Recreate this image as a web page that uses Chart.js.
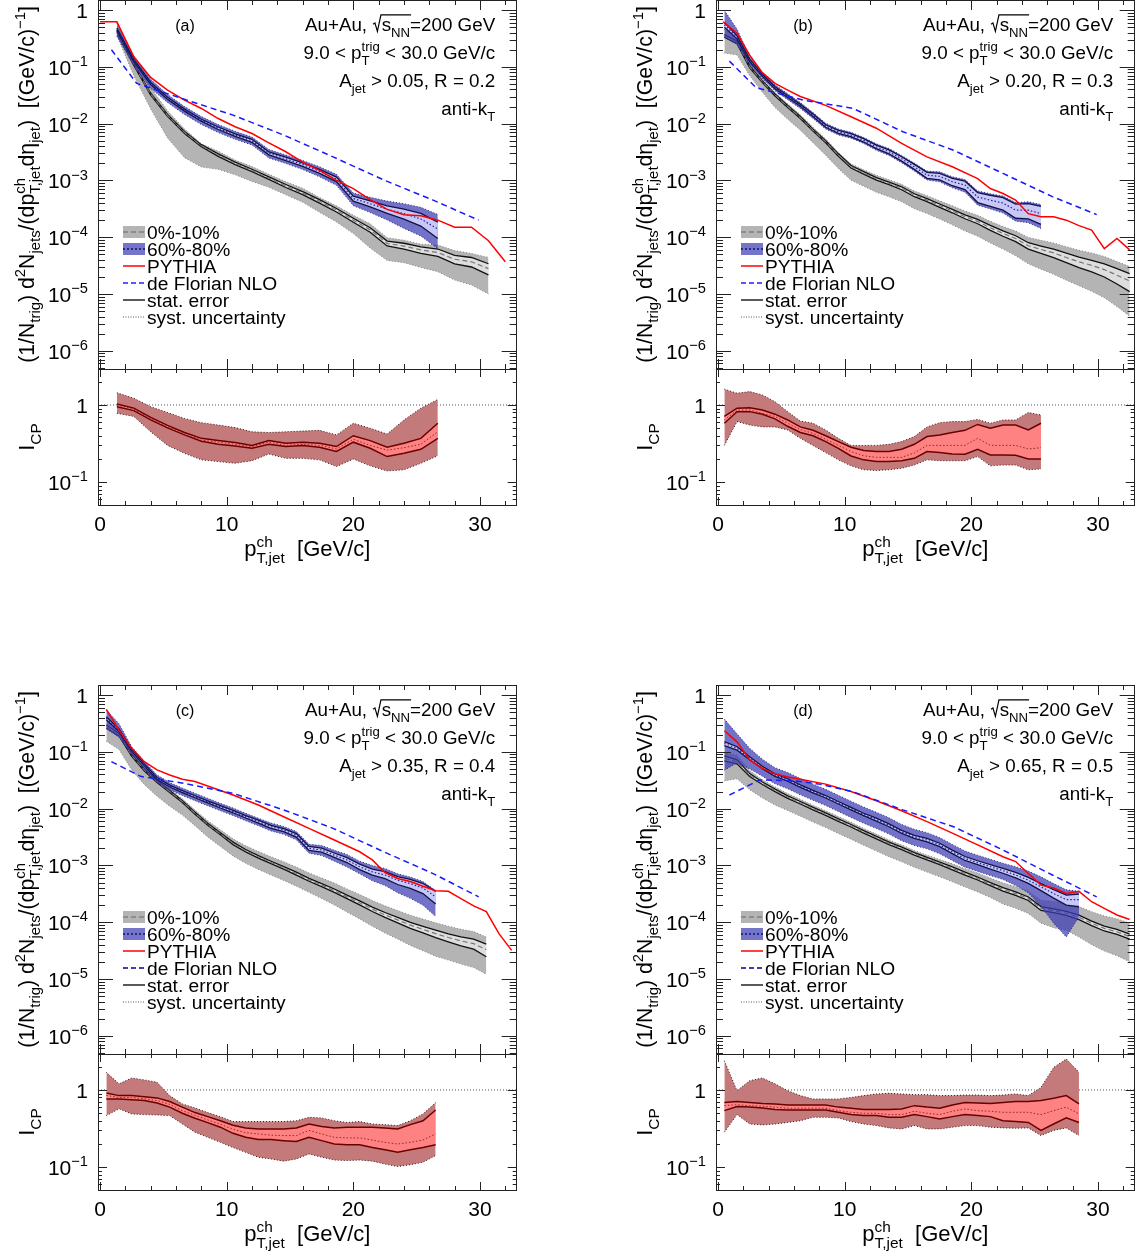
<!DOCTYPE html>
<html><head><meta charset="utf-8">
<script src="https://cdn.jsdelivr.net/npm/chart.js@4.4.1/dist/chart.umd.min.js"></script>
<style>
html,body{margin:0;padding:0;background:#fff;}
#wrap{position:relative;width:1139px;height:1258px;overflow:hidden;background:#fff;}
canvas{position:absolute;}
</style></head><body><div id="wrap"></div>
<script>
// ---------------- DATA ----------------
// Panel (a): A_jet > 0.05, R = 0.2
const xA = [1.33,2.67,4.0,5.33,6.67,8.0,9.33,10.67,12.0,13.33,14.67,16.0,17.33,18.67,20.0,21.33,22.67,24.0,25.33,26.67,28.0,29.33,30.67];
const centA = [0.42,0.11,0.033,0.014,7.0e-3,4.1e-3,2.8e-3,2.0e-3,1.5e-3,1.1e-3,8.0e-4,6.0e-4,4.3e-4,3.0e-4,2.0e-4,1.35e-4,7.8e-5,7.0e-5,6.0e-5,5.4e-5,4.1e-5,3.7e-5,2.8e-5];
const centA_stat = [0.04,0.04,0.04,0.04,0.04,0.04,0.05,0.05,0.05,0.05,0.06,0.06,0.07,0.07,0.08,0.09,0.10,0.12,0.13,0.15,0.17,0.19,0.22];
const centA_sysLo = [0.15,0.37,0.45,0.60,0.64,0.58,0.44,0.37,0.36,0.31,0.30,0.31,0.36,0.38,0.42,0.52,0.50,0.49,0.51,0.54,0.57,0.61,0.64];
const centA_sysHi = [0.05,0.22,0.30,0.20,0.15,0.08,0.17,0.14,0.17,0.17,0.19,0.21,0.17,0.19,0.22,0.28,0.26,0.27,0.26,0.35,0.42,0.40,0.58];
const periA = [0.46,0.13,0.051,0.028,0.0173,0.0115,8.3e-3,6.3e-3,5.0e-3,3.0e-3,2.4e-3,1.9e-3,1.45e-3,1.05e-3,4.8e-4,3.9e-4,3.1e-4,2.6e-4,2.1e-4,1.4e-4];
const periA_stat = [0.05,0.04,0.04,0.04,0.04,0.04,0.05,0.05,0.06,0.06,0.07,0.07,0.08,0.09,0.10,0.12,0.15,0.20,0.25,0.32];
const periA_sysLo = [0.25,0.20,0.18,0.16,0.16,0.16,0.16,0.16,0.16,0.17,0.17,0.18,0.20,0.22,0.25,0.30,0.35,0.45,0.50,0.55];
const periA_sysHi = [0.25,0.20,0.18,0.16,0.16,0.16,0.16,0.16,0.16,0.17,0.17,0.18,0.20,0.22,0.25,0.30,0.40,0.50,0.60,0.80];
const icpA = [1.0,0.88,0.67,0.52,0.43,0.35,0.33,0.31,0.29,0.33,0.30,0.31,0.30,0.27,0.36,0.30,0.26,0.28,0.31,0.45];
const icpA_stHi = [1.03,0.91,0.69,0.545,0.44,0.37,0.346,0.326,0.30,0.346,0.32,0.33,0.32,0.29,0.40,0.346,0.284,0.32,0.37,0.58];
const icpA_stLo = [0.95,0.845,0.64,0.505,0.41,0.34,0.31,0.295,0.275,0.31,0.29,0.30,0.284,0.25,0.33,0.275,0.215,0.237,0.267,0.37];
const icpA_syHi = [1.44,1.22,0.95,0.80,0.67,0.59,0.55,0.51,0.45,0.44,0.45,0.46,0.47,0.41,0.58,0.50,0.42,0.64,0.91,1.18];
const icpA_syLo = [0.78,0.71,0.45,0.30,0.237,0.195,0.185,0.176,0.19,0.232,0.204,0.204,0.195,0.16,0.20,0.163,0.14,0.145,0.176,0.22];
const pythiaA_x = [0,1.33,2.67,4.0,5.33,6.67,8.0,9.33,10.67,12.0,13.33,14.67,16.0,17.33,18.67,20.0,21.33,22.67,24.0,25.33,26.67,28.0,29.33,30.67,32.0];
const pythiaA = [0.62,0.62,0.15,0.065,0.039,0.026,0.0185,0.0123,8.8e-3,6.7e-3,4.6e-3,3.2e-3,2.1e-3,1.5e-3,1.0e-3,7.2e-4,4.6e-4,3.1e-4,2.5e-4,2.4e-4,2.0e-4,1.5e-4,1.5e-4,8.7e-5,3.7e-5];
const nloA_x = [0.9,2.9,6.4,10.5,14.5,18.4,22.4,26.3,29.9];
const nloA = [0.20,0.051,0.028,0.0141,6.3e-3,2.6e-3,1.02e-3,4.5e-4,2.0e-4];

// Panel (b): A_jet > 0.20, R = 0.3
const xB = [0.5,1.5,2.5,3.5,4.5,5.5,6.5,7.5,8.5,9.5,10.5,11.5,12.5,13.5,14.5,15.5,16.5,17.5,18.5,19.5,20.5,21.5,22.5,23.5,24.5,25.5,26.5,27.5,28.5,29.5,30.5,31.5,32.5];
const centB = [0.35,0.27,0.10,0.055,0.032,0.020,0.0128,7.7e-3,4.8e-3,2.8e-3,1.74e-3,1.36e-3,1.07e-3,8.9e-4,7.3e-4,5.5e-4,4.5e-4,3.6e-4,2.9e-4,2.3e-4,1.9e-4,1.47e-4,1.17e-4,9.5e-5,7.1e-5,6.1e-5,5.3e-5,4.4e-5,3.7e-5,3.2e-5,2.7e-5,2.15e-5,1.7e-5];
const centB_stat = [0.05,0.05,0.04,0.04,0.04,0.04,0.04,0.04,0.04,0.05,0.05,0.05,0.05,0.05,0.06,0.06,0.06,0.07,0.07,0.08,0.09,0.10,0.11,0.12,0.13,0.15,0.17,0.19,0.21,0.23,0.26,0.30,0.35];
const centB_sysLo = [0.50,0.40,0.30,0.35,0.40,0.40,0.40,0.40,0.42,0.42,0.42,0.42,0.42,0.42,0.42,0.42,0.42,0.42,0.43,0.44,0.45,0.46,0.47,0.50,0.52,0.55,0.58,0.60,0.62,0.65,0.68,0.72,0.76];
const centB_sysHi = [0.30,0.30,0.15,0.10,0.10,0.12,0.12,0.12,0.12,0.12,0.12,0.14,0.15,0.16,0.17,0.18,0.20,0.22,0.24,0.26,0.28,0.30,0.32,0.35,0.40,0.45,0.50,0.55,0.60,0.65,0.70,0.75,0.80];
const periB = [0.55,0.33,0.13,0.071,0.043,0.030,0.021,0.014,9.1e-3,7.2e-3,6.3e-3,5.1e-3,3.9e-3,3.2e-3,2.4e-3,1.74e-3,1.24e-3,1.18e-3,9.5e-4,8.3e-4,5.1e-4,4.5e-4,4.0e-4,3.0e-4,3.0e-4,2.6e-4];
const periB_stat = [0.10,0.06,0.05,0.04,0.04,0.04,0.04,0.05,0.05,0.06,0.06,0.07,0.07,0.08,0.09,0.10,0.12,0.13,0.15,0.17,0.20,0.22,0.25,0.28,0.30,0.35];
const periB_sysLo = [0.40,0.25,0.15,0.12,0.12,0.12,0.12,0.12,0.12,0.12,0.12,0.12,0.13,0.14,0.15,0.16,0.18,0.20,0.22,0.25,0.28,0.30,0.33,0.36,0.40,0.45];
const periB_sysHi = [0.80,0.40,0.15,0.12,0.12,0.12,0.12,0.12,0.12,0.12,0.12,0.12,0.13,0.14,0.15,0.16,0.18,0.20,0.22,0.25,0.28,0.30,0.33,0.36,0.40,0.45];
const icpB = [0.64,0.86,0.86,0.78,0.71,0.58,0.48,0.43,0.36,0.30,0.25,0.22,0.21,0.21,0.21,0.24,0.30,0.30,0.30,0.30,0.37,0.30,0.30,0.30,0.27,0.28];
const icpB_stHi = [0.71,0.91,0.92,0.86,0.76,0.64,0.52,0.47,0.40,0.336,0.284,0.257,0.25,0.25,0.267,0.31,0.39,0.41,0.44,0.47,0.56,0.50,0.55,0.55,0.475,0.58];
const icpB_stLo = [0.58,0.82,0.82,0.76,0.66,0.53,0.44,0.40,0.336,0.275,0.219,0.195,0.185,0.185,0.19,0.204,0.25,0.242,0.232,0.23,0.267,0.225,0.225,0.224,0.20,0.20];
const icpB_syHi = [1.6,1.42,1.49,1.35,1.10,0.82,0.62,0.58,0.475,0.37,0.30,0.30,0.30,0.31,0.336,0.39,0.52,0.59,0.61,0.61,0.65,0.58,0.64,0.64,0.80,0.74];
const icpB_syLo = [0.30,0.61,0.55,0.52,0.52,0.475,0.37,0.30,0.242,0.195,0.163,0.145,0.142,0.145,0.152,0.167,0.195,0.19,0.19,0.19,0.215,0.163,0.167,0.167,0.145,0.149];
const pythiaB_x = [0.4,1.5,2.5,3.5,4.5,5.5,6.5,8.5,10.5,12.5,14.5,16.5,18.5,20.5,21.5,22.5,23.5,24.5,25.5,26.5,27.5,28.5,29.5,30.5,31.5,32.5];
const pythiaB = [0.62,0.39,0.16,0.079,0.051,0.039,0.030,0.021,0.0132,8.3e-3,4.5e-3,2.6e-3,1.74e-3,1.08e-3,7.2e-4,5.9e-4,4.5e-4,2.6e-4,2.3e-4,2.3e-4,2.0e-4,1.6e-4,1.34e-4,6.3e-5,9.5e-5,6.0e-5];
const nloB_x = [0.9,3.0,6.7,10.65,14.6,18.6,22.5,26.4,29.9];
const nloB = [0.126,0.043,0.026,0.0186,7.2e-3,3.4e-3,1.33e-3,5.2e-4,2.5e-4];

// Panel (c): A_jet > 0.35, R = 0.4
const xC = [0.5,1.5,2.5,3.5,4.5,5.5,6.5,7.5,8.5,9.5,10.5,11.5,12.5,13.5,14.5,15.5,16.5,17.5,18.5,19.5,20.5,21.5,22.5,23.5,24.5,25.5,26.5,27.5,28.5,29.5,30.5];
const centC = [0.28,0.20,0.087,0.048,0.030,0.020,0.0133,8.3e-3,5.3e-3,3.6e-3,2.45e-3,1.82e-3,1.42e-3,1.13e-3,9.1e-4,7.2e-4,5.6e-4,4.5e-4,3.6e-4,2.8e-4,2.2e-4,1.7e-4,1.35e-4,1.1e-4,8.9e-5,7.5e-5,6.3e-5,5.4e-5,4.7e-5,4.2e-5,3.3e-5];
const centC_stat = [0.06,0.05,0.04,0.04,0.04,0.04,0.04,0.04,0.04,0.04,0.05,0.05,0.05,0.05,0.05,0.06,0.06,0.06,0.07,0.07,0.08,0.09,0.10,0.11,0.12,0.13,0.15,0.16,0.18,0.20,0.25];
const centC_sysLo = [0.45,0.45,0.45,0.45,0.45,0.45,0.42,0.40,0.40,0.40,0.40,0.40,0.40,0.40,0.40,0.40,0.40,0.42,0.44,0.46,0.48,0.50,0.52,0.54,0.56,0.58,0.60,0.60,0.61,0.62,0.63];
const centC_sysHi = [0.30,0.20,0.12,0.10,0.10,0.10,0.12,0.14,0.16,0.18,0.20,0.22,0.24,0.26,0.28,0.30,0.32,0.34,0.36,0.38,0.40,0.42,0.44,0.46,0.50,0.52,0.55,0.58,0.60,0.63,0.67];
const periC = [0.39,0.24,0.107,0.059,0.034,0.025,0.020,0.0162,0.0132,0.0108,8.9e-3,7.2e-3,5.9e-3,4.8e-3,4.2e-3,3.4e-3,2.0e-3,1.87e-3,1.52e-3,1.25e-3,9.5e-4,7.7e-4,6.8e-4,5.5e-4,4.8e-4,4.0e-4,2.8e-4];
const periC_stat = [0.06,0.05,0.04,0.04,0.04,0.04,0.04,0.04,0.04,0.05,0.05,0.05,0.06,0.06,0.06,0.07,0.08,0.08,0.09,0.10,0.11,0.12,0.14,0.16,0.18,0.20,0.25];
const periC_sysLo = [0.35,0.25,0.15,0.15,0.15,0.15,0.15,0.15,0.15,0.15,0.15,0.15,0.15,0.16,0.16,0.17,0.18,0.20,0.22,0.25,0.25,0.30,0.35,0.40,0.45,0.50,0.55];
const periC_sysHi = [0.40,0.30,0.15,0.15,0.15,0.15,0.15,0.15,0.15,0.15,0.15,0.15,0.15,0.16,0.16,0.17,0.18,0.20,0.22,0.25,0.25,0.30,0.30,0.30,0.30,0.30,0.30];
const icpC = [0.85,0.80,0.80,0.77,0.73,0.65,0.54,0.47,0.41,0.36,0.31,0.28,0.27,0.26,0.257,0.257,0.30,0.27,0.244,0.24,0.24,0.225,0.21,0.20,0.21,0.225,0.27];
const icpC_stHi = [0.915,0.845,0.845,0.82,0.79,0.71,0.60,0.51,0.452,0.40,0.35,0.323,0.313,0.313,0.313,0.323,0.363,0.336,0.323,0.33,0.33,0.33,0.323,0.313,0.356,0.40,0.55];
const icpC_stLo = [0.765,0.765,0.75,0.73,0.68,0.60,0.50,0.43,0.378,0.33,0.275,0.244,0.228,0.228,0.221,0.215,0.244,0.221,0.20,0.196,0.196,0.18,0.168,0.156,0.168,0.18,0.196];
const icpC_syHi = [1.69,1.20,1.43,1.35,1.26,0.845,0.66,0.585,0.51,0.452,0.39,0.39,0.39,0.39,0.39,0.40,0.443,0.435,0.40,0.38,0.39,0.363,0.356,0.346,0.40,0.49,0.686];
const icpC_syLo = [0.466,0.57,0.49,0.48,0.475,0.466,0.363,0.284,0.244,0.21,0.18,0.156,0.135,0.128,0.12,0.128,0.149,0.135,0.124,0.122,0.124,0.12,0.11,0.102,0.108,0.116,0.142];
const pythiaC_x = [0.5,1.5,2.5,3.5,4.5,5.5,6.5,7.5,8.5,10.5,12.5,14.5,16.5,18.5,20.5,21.5,22.5,23.5,24.5,25.5,26.5,27.5,28.5,29.5,30.5,31.5,32.5];
const pythiaC = [0.56,0.24,0.115,0.067,0.048,0.039,0.033,0.030,0.025,0.0174,0.0116,7.2e-3,4.5e-3,2.8e-3,1.74e-3,1.25e-3,7.5e-4,5.9e-4,5.2e-4,4.3e-4,3.6e-4,3.5e-4,2.6e-4,1.94e-4,1.54e-4,6.3e-5,3.2e-5];
const nloC_x = [0.9,3.2,6.6,10.5,14.5,18.4,22.4,26.3,29.9];
const nloC = [0.067,0.037,0.028,0.0186,9.5e-3,4.5e-3,1.74e-3,7.2e-4,2.8e-4];

// Panel (d): A_jet > 0.65, R = 0.5
const xD = [0.5,1.5,2.5,3.5,4.5,5.5,6.5,7.5,8.5,9.5,10.5,11.5,12.5,13.5,14.5,15.5,16.5,17.5,18.5,19.5,20.5,21.5,22.5,23.5,24.5,25.5,26.5,27.5,28.5,29.5,30.5,31.5,32.5];
const centD = [0.077,0.067,0.039,0.028,0.021,0.016,0.0127,0.010,8.0e-3,6.3e-3,5.0e-3,3.9e-3,3.1e-3,2.45e-3,2.0e-3,1.6e-3,1.32e-3,1.09e-3,8.9e-4,7.2e-4,5.9e-4,4.7e-4,3.8e-4,3.2e-4,2.6e-4,1.75e-4,1.6e-4,1.44e-4,1.22e-4,9.6e-5,7.8e-5,6.8e-5,5.6e-5];
const centD_stat = [0.10,0.08,0.06,0.05,0.05,0.05,0.05,0.05,0.05,0.05,0.05,0.05,0.05,0.05,0.05,0.05,0.05,0.05,0.06,0.06,0.06,0.06,0.07,0.07,0.07,0.08,0.08,0.08,0.09,0.09,0.10,0.10,0.10];
const centD_sysLo = [0.60,0.50,0.45,0.45,0.45,0.42,0.42,0.42,0.42,0.42,0.42,0.42,0.42,0.42,0.42,0.42,0.42,0.42,0.42,0.42,0.42,0.42,0.45,0.45,0.45,0.45,0.50,0.50,0.55,0.58,0.60,0.62,0.64];
const centD_sysHi = [0.25,0.30,0.20,0.15,0.15,0.15,0.15,0.15,0.15,0.15,0.15,0.15,0.15,0.15,0.15,0.15,0.15,0.17,0.20,0.22,0.25,0.28,0.30,0.32,0.35,0.40,0.45,0.50,0.55,0.60,0.65,0.70,0.72];
const periD = [0.14,0.115,0.077,0.053,0.039,0.032,0.025,0.020,0.0162,0.0127,0.010,7.9e-3,6.4e-3,5.1e-3,3.9e-3,3.2e-3,2.8e-3,2.3e-3,1.74e-3,1.33e-3,1.12e-3,9.5e-4,8.1e-4,6.8e-4,5.5e-4,4.2e-4,3.2e-4,2.5e-4,2.5e-4];
const periD_stat = [0.08,0.07,0.06,0.05,0.05,0.05,0.05,0.05,0.05,0.05,0.05,0.05,0.06,0.06,0.06,0.06,0.07,0.07,0.07,0.08,0.08,0.09,0.10,0.11,0.12,0.14,0.17,0.20,0.25];
const periD_sysLo = [0.66,0.45,0.35,0.30,0.30,0.30,0.30,0.30,0.30,0.30,0.30,0.30,0.30,0.30,0.30,0.30,0.30,0.30,0.30,0.30,0.30,0.30,0.30,0.35,0.40,0.55,0.70,0.78,0.50];
const periD_sysHi = [1.70,0.80,0.50,0.40,0.35,0.35,0.35,0.35,0.35,0.35,0.35,0.35,0.35,0.35,0.35,0.35,0.35,0.35,0.35,0.35,0.35,0.35,0.35,0.40,0.45,0.50,0.50,0.50,0.40];
const icpD = [0.627,0.646,0.627,0.615,0.60,0.58,0.58,0.58,0.58,0.54,0.514,0.50,0.50,0.48,0.48,0.53,0.50,0.48,0.53,0.568,0.54,0.53,0.514,0.514,0.514,0.48,0.54,0.60,0.49];
const icpD_stHi = [0.69,0.71,0.69,0.67,0.66,0.64,0.64,0.64,0.64,0.60,0.58,0.557,0.557,0.557,0.568,0.627,0.60,0.58,0.64,0.69,0.68,0.67,0.69,0.71,0.71,0.73,0.78,0.845,0.66];
const icpD_stLo = [0.54,0.61,0.60,0.585,0.557,0.55,0.55,0.55,0.55,0.514,0.48,0.466,0.466,0.443,0.443,0.48,0.452,0.42,0.452,0.48,0.466,0.452,0.40,0.39,0.38,0.30,0.363,0.435,0.38];
const icpD_syHi = [2.39,0.98,1.32,1.43,1.20,0.98,0.845,0.765,0.765,0.765,0.80,0.845,0.888,0.905,0.888,0.87,0.87,0.845,0.845,0.86,0.86,0.845,0.86,0.888,0.845,1.08,1.96,2.52,1.69];
const icpD_syLo = [0.284,0.48,0.363,0.353,0.363,0.38,0.40,0.443,0.443,0.435,0.39,0.363,0.346,0.323,0.313,0.346,0.313,0.313,0.33,0.346,0.346,0.33,0.323,0.32,0.323,0.257,0.30,0.323,0.257];
const pythiaD_x = [0.5,1.5,2.5,3.5,4.5,5.5,6.5,8.5,10.5,12.5,14.5,16.5,18.5,20.5,22.5,23.5,24.5,25.5,26.5,27.5,28.5,29.5,30.5,31.5,32.5];
const pythiaD = [0.235,0.15,0.072,0.051,0.041,0.036,0.033,0.027,0.020,0.0138,9.2e-3,5.9e-3,3.7e-3,2.3e-3,1.42e-3,1.17e-3,7.2e-4,4.5e-4,4.0e-4,3.2e-4,3.5e-4,2.3e-4,1.75e-4,1.34e-4,1.12e-4];
const nloD_x = [0.9,3.3,6.0,8.0,10.6,14.6,18.6,22.5,26.4,29.9];
const nloD = [0.0174,0.032,0.031,0.027,0.020,9.5e-3,4.8e-3,1.87e-3,6.8e-4,2.8e-4];

const legendLabels = ['0%-10%','60%-80%','PYTHIA','de Florian NLO','stat. error','syst. uncertainty'];
const UNITY = 1;

// ---------------- STYLE / LAYOUT ----------------
const FONT = '"Liberation Sans", Arial, Helvetica, sans-serif';
const X_MIN = -0.16, X_MAX = 32.9;
const Y_MIN = 4.8e-7, Y_MAX = 1.5;
const R_MIN = 0.0508, R_MAX = 2.92;
const AREA_L = 98, AREA_W = 418.7, UP_H = 369, LO_H = 136, CW = 520;
const C_GSYS = '#b4b4b4', C_GSTAT = '#dedede', C_BSYS = 'rgba(60,60,180,0.72)', C_BSTAT = '#c8c8f6';
const C_RSYS = '#c47a7a', C_RSTAT = '#ff8282';
const Y_TITLE = '(1/N_{trig}) d^{2}N_{jets}/(dp^{ch}_{T,jet}d\u03B7_{jet})  [(GeV/c)^{\u22121}]';
const Y_TITLE_LEN = 357, ANN = 18.8, LEG = 19.2;

const panels = [
  {tag:'(a)', ox:0,   oy:0,   ajet:'0.05', R:'0.2', x:xA, cen:centA, cSt:centA_stat, cLo:centA_sysLo, cHi:centA_sysHi,
   per:periA, pSt:periA_stat, pLo:periA_sysLo, pHi:periA_sysHi, icp:icpA, iStH:icpA_stHi, iStL:icpA_stLo, iSyH:icpA_syHi, iSyL:icpA_syLo,
   pyX:pythiaA_x, py:pythiaA, nX:nloA_x, n:nloA},
  {tag:'(b)', ox:618, oy:0,   ajet:'0.20', R:'0.3', x:xB, cen:centB, cSt:centB_stat, cLo:centB_sysLo, cHi:centB_sysHi,
   per:periB, pSt:periB_stat, pLo:periB_sysLo, pHi:periB_sysHi, icp:icpB, iStH:icpB_stHi, iStL:icpB_stLo, iSyH:icpB_syHi, iSyL:icpB_syLo,
   pyX:pythiaB_x, py:pythiaB, nX:nloB_x, n:nloB},
  {tag:'(c)', ox:0,   oy:685, ajet:'0.35', R:'0.4', x:xC, cen:centC, cSt:centC_stat, cLo:centC_sysLo, cHi:centC_sysHi,
   per:periC, pSt:periC_stat, pLo:periC_sysLo, pHi:periC_sysHi, icp:icpC, iStH:icpC_stHi, iStL:icpC_stLo, iSyH:icpC_syHi, iSyL:icpC_syLo,
   pyX:pythiaC_x, py:pythiaC, nX:nloC_x, n:nloC},
  {tag:'(d)', ox:618, oy:685, ajet:'0.65', R:'0.5', x:xD, cen:centD, cSt:centD_stat, cLo:centD_sysLo, cHi:centD_sysHi,
   per:periD, pSt:periD_stat, pLo:periD_sysLo, pHi:periD_sysHi, icp:icpD, iStH:icpD_stHi, iStL:icpD_stLo, iSyH:icpD_syHi, iSyL:icpD_syLo,
   pyX:pythiaD_x, py:pythiaD, nX:nloD_x, n:nloD}
];

// ---------------- RICH TEXT ----------------
function parseRich(s){
  const out=[]; let buf=''; let i=0;
  const flush=()=>{ if(buf){ out.push({m:'n',t:buf}); buf=''; } };
  const grab=(start)=>{ let depth=1, j=start; while(j<s.length && depth>0){ if(s[j]==='{')depth++; else if(s[j]==='}')depth--; j++; } return [s.slice(start,j-1), j]; };
  while(i<s.length){
    const c=s[i];
    if((c==='^'||c==='_') && s[i+1]==='{'){ flush(); const g=grab(i+2); out.push({m:c==='^'?'sup':'sub', t:g[0]}); i=g[1]; }
    else if(s.startsWith('#sqrt{',i)){ flush(); const g=grab(i+6); out.push({m:'sqrt', inner:parseRich(g[0])}); i=g[1]; }
    else { buf+=c; i++; }
  }
  flush(); return out;
}
function layRich(ctx, items, size, draw, x, y){
  let cx=x;
  const off=m=> m==='sup' ? -size*0.42 : size*0.3;
  for(let k=0;k<items.length;k++){
    const it=items[k];
    if(it.m==='n'){ ctx.font=size+'px '+FONT; const w=ctx.measureText(it.t).width; if(draw) ctx.fillText(it.t,cx,y); cx+=w; }
    else if(it.m==='sup'||it.m==='sub'){
      ctx.font=(size*0.7)+'px '+FONT;
      const w=ctx.measureText(it.t).width; const nx=items[k+1];
      if(nx && (nx.m==='sup'||nx.m==='sub') && nx.m!==it.m){
        const w2=ctx.measureText(nx.t).width;
        if(draw){ ctx.fillText(it.t,cx,y+off(it.m)); ctx.fillText(nx.t,cx,y+off(nx.m)); }
        cx+=Math.max(w,w2); k++;
      } else { if(draw) ctx.fillText(it.t,cx,y+off(it.m)); cx+=w; }
    } else if(it.m==='sqrt'){
      const x0=cx; cx+=size*0.5;
      const end=layRich(ctx,it.inner,size,draw,cx,y);
      if(draw){ ctx.save(); ctx.lineWidth=1.2; ctx.strokeStyle=ctx.fillStyle; ctx.beginPath();
        ctx.moveTo(x0+0.04*size,y-0.36*size); ctx.lineTo(x0+0.14*size,y-0.43*size); ctx.lineTo(x0+0.27*size,y+0.02*size);
        ctx.lineTo(x0+0.46*size,y-0.86*size); ctx.lineTo(end+1,y-0.86*size); ctx.stroke(); ctx.restore(); }
      cx=end;
    }
  }
  return cx;
}
function richWidth(ctx, s, size){ ctx.save(); const w=layRich(ctx,parseRich(s),size,false,0,0); ctx.restore(); return w; }
function drawRich(ctx, s, x, y, size, align, color){
  const items=parseRich(s);
  ctx.save(); ctx.fillStyle=color||'#000'; ctx.textBaseline='alphabetic'; ctx.textAlign='left';
  const w=layRich(ctx,items,size,false,0,0);
  const x0= align==='right' ? x-w : align==='center' ? x-w/2 : x;
  layRich(ctx,items,size,true,x0,y);
  ctx.restore(); return w;
}

// ---------------- DECORATION ----------------
function drawFrameTicks(ctx, a, xs, ys, t){
  ctx.save(); ctx.strokeStyle='#222'; ctx.lineWidth=1; ctx.beginPath();
  for(let v=0; v<=X_MAX+1e-9; v+=2){
    const px=Math.round(xs.getPixelForValue(v))+0.5; const l=(v%10===0)?t.xMaj:t.xMin;
    ctx.moveTo(px,a.bottom); ctx.lineTo(px,a.bottom-l); ctx.moveTo(px,a.top); ctx.lineTo(px,a.top+l);
  }
  for(let e=-8;e<=1;e++) for(let k=1;k<=9;k++){
    const v=k*Math.pow(10,e); if(v<ys.min*0.999||v>ys.max*1.001) continue;
    const py=Math.round(ys.getPixelForValue(v))+0.5; const l=k===1?t.yMaj:t.yMin;
    ctx.moveTo(a.left,py); ctx.lineTo(a.left+l,py); ctx.moveTo(a.right,py); ctx.lineTo(a.right-l,py);
  }
  ctx.stroke();
  ctx.strokeRect(Math.round(a.left)+0.5, Math.round(a.top)+0.5, Math.round(a.right)-Math.round(a.left)-1, Math.round(a.bottom)-Math.round(a.top));
  ctx.restore();
}
function legLine(ctx, x0, x1, y, color, dash, w){
  ctx.save(); ctx.strokeStyle=color; ctx.lineWidth=w; ctx.setLineDash(dash); ctx.beginPath(); ctx.moveTo(x0,y); ctx.lineTo(x1,y); ctx.stroke(); ctx.restore();
}
function decoUpper(p){ return (chart)=>{
  const ctx=chart.ctx, a=chart.chartArea, xs=chart.scales.x, ys=chart.scales.y;
  const L=a.left, T=a.top, R=a.right, B=a.bottom;
  drawFrameTicks(ctx, a, xs, ys, {xMaj:10, xMin:5, yMaj:15, yMin:7});
  for(let e=-6;e<=0;e++){
    const py=ys.getPixelForValue(Math.pow(10,e));
    drawRich(ctx, e===0?'1':'10^{\u2212'+(-e)+'}', L-10, py+8, 21, 'right');
  }
  const ts = 22*Y_TITLE_LEN/richWidth(ctx, Y_TITLE, 22);
  ctx.save(); ctx.translate(L-64,(T+B)/2); ctx.rotate(-Math.PI/2); drawRich(ctx, Y_TITLE, 0, 0, ts, 'center'); ctx.restore();
  const ax=R-21.5;
  drawRich(ctx, 'Au+Au, #sqrt{s_{NN}}=200 GeV', ax, T+31, ANN, 'right');
  drawRich(ctx, '9.0 < p^{trig}_{T} < 30.0 GeV/c', ax, T+59, ANN, 'right');
  drawRich(ctx, 'A_{jet} > '+p.ajet+', R = '+p.R, ax, T+87, ANN, 'right');
  drawRich(ctx, 'anti-k_{T}', ax, T+115, ANN, 'right');
  drawRich(ctx, p.tag, L+87, T+31, 16, 'center');
  // legend
  const lx=L+25, lx1=L+47, tx=L+49; const rows=[232,249,266,283,300,317];
  ctx.save();
  ctx.fillStyle=C_GSYS; ctx.fillRect(lx, T+rows[0]-6, 22, 12);
  legLine(ctx, lx, lx1, T+rows[0], '#666', [5,3], 1.2);
  ctx.fillStyle='rgb(116,116,200)'; ctx.fillRect(lx, T+rows[1]-6, 22, 12);
  legLine(ctx, lx, lx1, T+rows[1], '#10106a', [2,2], 1.5);
  legLine(ctx, lx, lx1, T+rows[2], '#ff0000', [], 1.5);
  legLine(ctx, lx, lx1, T+rows[3], (p.tag==='(a)'||p.tag==='(b)')?'#2020ff':'#00008a', [5,3], 1.5);
  legLine(ctx, lx, lx1, T+rows[4], '#000', [], 1.3);
  legLine(ctx, lx, lx1, T+rows[5], '#555', [1,1.5], 1);
  ctx.restore();
  for(let i=0;i<6;i++) drawRich(ctx, legendLabels[i], tx, T+rows[i]+6.5, LEG, 'left');
};}
function decoLower(p){ return (chart)=>{
  const ctx=chart.ctx, a=chart.chartArea, xs=chart.scales.x, ys=chart.scales.y;
  const L=a.left, T=a.top, R=a.right, B=a.bottom;
  drawFrameTicks(ctx, a, xs, ys, {xMaj:8, xMin:4, yMaj:9, yMin:4});
  drawRich(ctx, '1', L-10, ys.getPixelForValue(1)+8, 21, 'right');
  drawRich(ctx, '10^{\u22121}', L-10, ys.getPixelForValue(0.1)+8, 21, 'right');
  for(const v of [0,10,20,30]) drawRich(ctx, String(v), xs.getPixelForValue(v), B+26, 21, 'center');
  drawRich(ctx, 'p^{ch}_{T,jet}  [GeV/c]', (L+R)/2, B+51, 22, 'center');
  ctx.save(); ctx.translate(L-64,(T+B)/2); ctx.rotate(-Math.PI/2); drawRich(ctx, 'I_{CP}', 0, 0, 22, 'center'); ctx.restore();
};}

// ---------------- CHARTS ----------------
function pts(xs, ys){ return xs.map((x,i)=>({x:x, y:ys[i]})); }
function scaleRel(c, rel, sign){ return c.map((v,i)=>v*(1+sign*rel[i])); }

function upperDatasets(p){
  const list=[]; let ord=1000;
  const add=(xs,ys,st)=>{ list.push(Object.assign({data:pts(xs,ys), pointRadius:0, tension:0, fill:false, order:ord--}, st)); };
  const band=(xs,lo,hi,fillCol,edge)=>{ add(xs,hi,Object.assign({fill:'+1', backgroundColor:fillCol}, edge)); add(xs,lo,edge); };
  const xc=p.x.slice(0,p.cen.length), xp=p.x.slice(0,p.per.length);
  band(xc, scaleRel(p.cen,p.cLo,-1), scaleRel(p.cen,p.cHi,1), C_GSYS, {borderColor:'#808080', borderWidth:1, borderDash:[1,2]});
  band(xc, scaleRel(p.cen,p.cSt,-1), scaleRel(p.cen,p.cSt,1), C_GSTAT, {borderColor:'#111', borderWidth:1.3});
  add(xc, p.cen, {borderColor:'#777', borderWidth:1.2, borderDash:[5,3]});
  band(xp, scaleRel(p.per,p.pLo,-1), scaleRel(p.per,p.pHi,1), C_BSYS, {borderColor:'#2a2a80', borderWidth:1, borderDash:[1,2]});
  band(xp, scaleRel(p.per,p.pSt,-1), scaleRel(p.per,p.pSt,1), C_BSTAT, {borderColor:'#12124a', borderWidth:1.3});
  add(xp, p.per, {borderColor:'#2020a0', borderWidth:1.2, borderDash:[1.5,2]});
  add(p.pyX, p.py, {borderColor:'#ff0000', borderWidth:1.5});
  add(p.nX, p.n, {borderColor:'#1a1aff', borderWidth:1.5, borderDash:[6,4]});
  return list;
}
function lowerDatasets(p){
  const list=[]; let ord=1000;
  const add=(xs,ys,st)=>{ list.push(Object.assign({data:pts(xs,ys), pointRadius:0, tension:0, fill:false, order:ord--}, st)); };
  const band=(xs,lo,hi,fillCol,edge)=>{ add(xs,hi,Object.assign({fill:'+1', backgroundColor:fillCol}, edge)); add(xs,lo,edge); };
  const xi=p.x.slice(0,p.icp.length);
  add([X_MIN,X_MAX],[UNITY,UNITY],{borderColor:'#555', borderWidth:1, borderDash:[1,2]});
  band(xi, p.iSyL, p.iSyH, C_RSYS, {borderColor:'#3a1010', borderWidth:1, borderDash:[1,2]});
  band(xi, p.iStL, p.iStH, C_RSTAT, {borderColor:'#6a0000', borderWidth:1.5});
  add(xi, p.icp, {borderColor:'#902828', borderWidth:1, borderDash:[1.5,2]});
  return list;
}
function makeChart(canvas, datasets, yMin, yMax, padding, deco){
  return new Chart(canvas, {
    type:'line',
    data:{datasets:datasets},
    options:{
      responsive:false, animation:false, devicePixelRatio:1, events:[],
      layout:{padding:padding},
      scales:{ x:{type:'linear', min:X_MIN, max:X_MAX, display:false}, y:{type:'logarithmic', min:yMin, max:yMax, display:false} },
      plugins:{ legend:{display:false}, tooltip:{enabled:false}, filler:{propagate:false, drawTime:'beforeDatasetDraw'} }
    },
    plugins:[{id:'deco', afterDraw:deco}]
  });
}
const wrap=document.getElementById('wrap');
function addCanvas(left, top, w, h){
  const c=document.createElement('canvas'); c.width=w; c.height=h;
  c.style.left=left+'px'; c.style.top=top+'px'; c.style.width=w+'px'; c.style.height=h+'px';
  wrap.appendChild(c); return c;
}
const padR = CW-AREA_L-AREA_W;
for(const p of panels){
  const cu=addCanvas(p.ox, p.oy-4, CW, UP_H+8);
  makeChart(cu, upperDatasets(p), Y_MIN, Y_MAX, {left:AREA_L, right:padR, top:4, bottom:4}, decoUpper(p));
  const cl=addCanvas(p.ox, p.oy+UP_H-4, CW, 210);
  makeChart(cl, lowerDatasets(p), R_MIN, R_MAX, {left:AREA_L, right:padR, top:4, bottom:210-4-LO_H}, decoLower(p));
}
</script></body></html>
